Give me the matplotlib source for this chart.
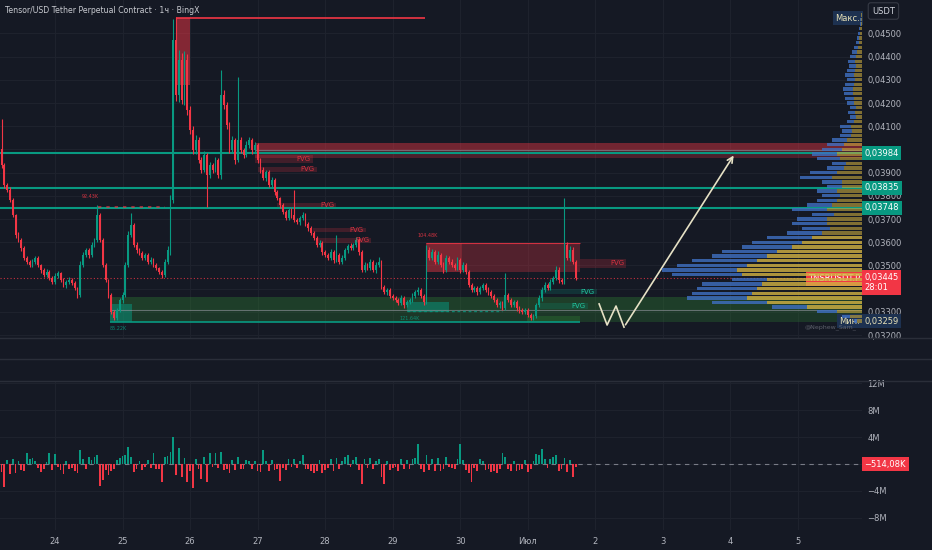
import matplotlib
matplotlib.use("Agg")
import matplotlib.pyplot as plt
import matplotlib.dates as mdates
import matplotlib.transforms as mtransforms
from matplotlib.lines import Line2D
from matplotlib.patches import Rectangle
import numpy as np
import pandas as pd

# ----- Candles: TNSRUSDT.P, 1h, prices in 1e-5 USDT -----
first_open = 4000
first_time = '2025-06-23 05:00'
closes = [
    3933, 3847, 3825, 3782, 3717, 3631, 3609, 3575, 3532, 3515,
    3502, 3515, 3532, 3502, 3480, 3459, 3472, 3446, 3428, 3454,
    3467, 3437, 3416, 3428, 3437, 3424, 3403, 3372, 3502, 3545,
    3566, 3545, 3588, 3609, 3717, 3609, 3502, 3437, 3372, 3299,
    3273, 3308, 3351, 3372, 3502, 3631, 3674, 3588, 3566, 3553,
    3532, 3545, 3515, 3523, 3502, 3489, 3472, 3459, 3515, 3566,
    3782, 4471, 4234, 4385, 4213, 4385, 4170, 4084, 3997, 4040,
    3954, 3911, 3976, 3890, 3933, 3911, 3954, 3890, 4234, 4191,
    4105, 3997, 4040, 3954, 4040, 3997, 3976, 4019, 4040, 3997,
    4019, 3954, 3911, 3877, 3903, 3847, 3868, 3816, 3790, 3760,
    3730, 3704, 3739, 3717, 3696, 3687, 3704, 3717, 3678, 3661,
    3640, 3618, 3588, 3597, 3558, 3545, 3532, 3558, 3523, 3545,
    3515, 3532, 3566, 3584, 3575, 3588, 3609, 3558, 3480, 3502,
    3489, 3515, 3480, 3502, 3515, 3407, 3385, 3394, 3368, 3359,
    3351, 3338, 3359, 3329, 3342, 3351, 3368, 3385, 3394, 3368,
    3342, 3566, 3532, 3558, 3515, 3545, 3502, 3480, 3532, 3515,
    3502, 3489, 3523, 3480, 3502, 3472, 3416, 3394, 3403, 3385,
    3403, 3416, 3394, 3385, 3368, 3351, 3329, 3338, 3316, 3372,
    3351, 3329, 3342, 3316, 3308, 3299, 3308, 3286, 3273, 3282,
    3329, 3359, 3394, 3416, 3403, 3428, 3446, 3480, 3437, 3428,
    3588, 3532, 3566, 3515, 3445,
]
upper_wick = [
    130, 10, 8, 12, 9, 6, 14, 8, 10, 7,
    9, 12, 8, 10, 6, 9, 11, 7, 8, 12,
    10, 6, 9, 8, 11, 7, 9, 6, 15, 12,
    10, 8, 12, 9, 43, 8, 7, 10, 6, 9,
    8, 10, 7, 12, 14, 16, 52, 9, 11, 8,
    10, 7, 9, 12, 8, 10, 6, 9, 14, 18,
    20, 90, 100, 43, 30, 40, 25, 18, 15, 20,
    12, 14, 16, 10, 12, 9, 15, 10, 108, 20,
    15, 12, 18, 10, 272, 14, 10, 16, 12, 10,
    15, 10, 8, 12, 9, 10, 14, 8, 9, 7,
    10, 8, 12, 9, 108, 10, 8, 12, 9, 7,
    9, 8, 10, 12, 8, 9, 10, 12, 8, 86,
    9, 12, 10, 8, 11, 9, 14, 10, 8, 12,
    10, 12, 8, 11, 21, 9, 7, 10, 8, 9,
    7, 9, 12, 8, 10, 9, 11, 10, 12, 8,
    9, 22, 14, 12, 10, 16, 9, 11, 14, 10,
    12, 9, 13, 10, 11, 8, 9, 7, 10, 8,
    10, 9, 8, 11, 7, 9, 8, 10, 9, 95,
    8, 10, 9, 7, 9, 8, 10, 7, 9, 8,
    10, 12, 11, 14, 9, 12, 10, 16, 11, 9,
    202, 15, 18, 12, 10,
]
lower_wick = [
    12, 15, 9, 10, 8, 12, 9, 11, 8, 10,
    7, 9, 10, 8, 12, 9, 8, 11, 10, 7,
    9, 10, 8, 12, 9, 10, 8, 14, 9, 8,
    10, 12, 8, 9, 7, 8, 10, 9, 11, 8,
    8, 10, 9, 12, 8, 9, 10, 8, 12, 9,
    10, 8, 9, 11, 10, 8, 9, 12, 8, 10,
    20, 15, 25, 30, 18, 22, 20, 16, 18, 15,
    14, 12, 10, 138, 12, 14, 10, 12, 18, 15,
    16, 12, 14, 18, 10, 12, 14, 10, 12, 15,
    10, 12, 14, 9, 12, 10, 8, 12, 9, 11,
    9, 10, 8, 12, 10, 9, 11, 8, 10, 12,
    8, 10, 9, 8, 12, 9, 10, 8, 11, 9,
    10, 8, 9, 12, 10, 8, 9, 11, 10, 8,
    9, 10, 8, 12, 9, 10, 8, 11, 9, 10,
    8, 10, 9, 11, 8, 10, 9, 8, 12, 10,
    12, 10, 9, 8, 11, 10, 9, 12, 8, 10,
    9, 8, 10, 12, 9, 11, 10, 8, 9, 12,
    10, 8, 9, 11, 10, 9, 8, 12, 9, 10,
    9, 10, 8, 12, 11, 9, 10, 9, 8, 10,
    10, 8, 12, 9, 10, 11, 8, 9, 12, 10,
    10, 9, 12, 8, 9,
]
# volume delta per candle, millions
delta_m = [
    -1.2, -3.4, 0.6, -1.5, 0.8, -1.4, 0.5, -0.9, -1.1, 1.6,
    0.7, 0.9, 0.4, -0.6, -1.2, -0.8, 0.3, 1.6, -0.9, 1.5,
    -0.4, -0.9, -1.5, 0.5, -0.7, -0.6, -1.0, -1.3, 2.1, 0.7,
    -0.8, 1.0, 0.6, 1.0, 1.3, -3.2, -2.4, -0.9, -1.6, -1.0,
    -0.8, 0.6, 0.9, 1.2, 1.4, 2.5, 1.0, -1.2, -0.7, 0.4,
    -0.9, -0.5, 0.6, -0.6, 1.6, -0.8, -0.7, -2.6, 1.0, 1.2,
    1.8, 3.95, -1.7, 2.3, -1.9, 0.9, -2.6, -1.0, -3.6, 0.8,
    -0.7, -2.2, 1.1, -2.6, 1.6, -0.5, 1.6, -0.6, 1.8, -0.9,
    -0.8, -1.4, 0.6, -0.9, 1.0, -0.7, -0.8, 0.6, 0.5, -0.8,
    0.4, -1.0, -1.2, 2.1, 0.5, -1.1, 0.6, -0.9, -0.7, -2.5,
    -0.6, -0.9, 0.7, -0.5, 0.8, -0.6, 0.5, 1.3, -0.8, -0.7,
    -1.0, -1.4, -1.1, 0.6, -1.3, -0.9, -0.6, 0.7, -1.0, 0.9,
    -0.7, 0.5, 1.1, 1.3, -0.4, 0.6, 1.0, -0.9, -3.0, 0.8,
    -0.6, 0.9, -0.8, 0.5, 0.7, -2.0, -2.9, 0.4, -0.9, -0.6,
    -0.5, -1.0, 0.7, -0.8, 0.6, -0.7, 0.7, 0.9, 3.0, -0.8,
    -1.2, 1.4, -0.9, 0.8, -1.1, 0.9, -1.0, -0.8, 1.0, -0.5,
    -0.6, -0.7, 0.8, 2.9, 0.6, -0.9, -1.4, -2.7, -0.6, -1.1,
    0.7, 0.5, -0.9, -0.8, -1.2, -1.0, -1.3, -0.7, 1.7, 1.0,
    -0.8, -1.0, 0.5, -1.1, -0.9, -0.7, 0.6, -1.2, -0.8, 0.5,
    1.5, 1.3, 2.2, 0.7, -0.6, 0.8, 1.0, 1.4, -1.0, -0.7,
    0.9, -1.2, 0.6, -1.9, -0.5,
]

# ----- Visible range volume profile (bottom row 0.0326, step 0.0002) -----
prof_bottom, prof_step = 0.0326, 0.0002
prof_up = [
    5, 12, 25, 55, 95, 115, 110, 105, 100, 95,
    120, 125, 115, 105, 95, 85, 70, 60, 50, 40,
    32, 35, 35, 28, 35, 30, 25, 22, 25, 20,
    20, 30, 25, 18, 16, 22, 25, 20, 18, 15,
    11, 10, 11, 8, 6, 7, 6, 8, 8, 9,
    9, 8, 7, 8, 7, 6, 7, 6, 5, 4,
    3, 3, 2, 2, 1, 1, 1,
]
prof_down = [
    3, 8, 20, 35, 55, 60, 60, 60, 60, 35,
    70, 75, 70, 65, 55, 55, 50, 50, 45, 35,
    28, 35, 30, 22, 35, 25, 20, 18, 20, 15,
    20, 32, 27, 17, 14, 23, 25, 20, 17, 15,
    11, 10, 11, 7, 6, 7, 6, 7, 9, 9,
    10, 9, 8, 9, 8, 7, 7, 6, 5, 4,
    3, 2, 2, 1, 1, 1, 0,
]
value_area = (0.0331, 0.0363)

# ----- Levels and drawings -----
levels = [0.03984, 0.03835, 0.03748]
last_price = 0.03445
low_price = 0.03259
high_price = 0.04566
supply_zone = ('2025-06-26 23:00', '2025-07-05 23:00', 0.03963, 0.03997, 0.04027)
demand_zone = ('2025-06-24 19:30', '2025-07-05 23:00', 0.03256, 0.03308, 0.03364)
top_block = ('2025-06-25 19:00', '2025-06-26 00:00', 0.04277, 0.04566, '2025-06-29 11:30')
range_block = ('2025-06-29 11:45', '2025-06-30 00:30', '2025-07-01 18:30', 0.03472, 0.03597)
teal_blocks = [
    ('2025-06-24 19:30', '2025-06-25 03:20', 0.03256, 0.03334),
    ('2025-06-29 05:00', '2025-06-29 20:00', 0.03299, 0.03342),
]
green_box = ('2025-06-30 23:45', '2025-07-01 18:30', 0.03256, 0.03282)
fvg_bear = [
    ('2025-06-26 23:00', '2025-06-27 19:40', 0.03941, 0.03976),
    ('2025-06-27 00:00', '2025-06-27 21:00', 0.03903, 0.03924),
    ('2025-06-27 07:00', '2025-06-28 04:00', 0.03752, 0.03769),
    ('2025-06-27 19:30', '2025-06-28 14:20', 0.03644, 0.03661),
    ('2025-06-27 21:10', '2025-06-28 16:20', 0.03597, 0.03618),
    ('2025-07-01 18:30', '2025-07-02 11:00', 0.03489, 0.03528),
]
fvg_bull = [
    ('2025-07-01 04:20', '2025-07-02 00:30', 0.03377, 0.03398),
    ('2025-07-01 04:20', '2025-07-01 21:20', 0.03312, 0.03338),
]
swing_labels = [
    ('2025-06-24 12:30', 0.03795, '92.43K', 'red'),
    ('2025-06-24 22:30', 0.03226, '85.22K', 'green'),
    ('2025-06-29 12:30', 0.03630, '104.48K', 'red'),
    ('2025-06-29 06:00', 0.03269, '121.64K', 'green'),
]
swing_high_line = ('2025-06-24 15:20', '2025-06-25 15:00', 0.03752)
eq_low_line = ('2025-06-29 05:00', '2025-06-30 15:00', 0.03304)
path_times = ['2025-07-02 01:20', '2025-07-02 04:10', '2025-07-02 07:20',
              '2025-07-02 10:10', '2025-07-04 01:40']
path_prices = [0.03334, 0.03243, 0.03325, 0.03234, 0.03984]

day_ticks = pd.date_range('2025-06-24', '2025-07-05', freq='D')
day_labels = ['24', '25', '26', '27', '28', '29', '30', 'Июл', '2', '3', '4', '5']

# ----- Style -----
BG = '#151924'
GRID = '#1e222d'
TXT = '#b2b5be'
GREEN = '#089981'
RED = '#f23645'
plt.rcParams['font.family'] = ['DejaVu Sans']


def t(s):
    return mdates.date2num(pd.Timestamp(s))


def fmt_price(v):
    return f'{v:.5f}'.replace('.', ',')


fig = plt.figure(figsize=(9.32, 5.5), dpi=100, facecolor=BG)
W, H = 932, 550
ax = fig.add_axes([0, (H - 338) / H, 862 / W, 338 / H], facecolor=BG)
axv = fig.add_axes([0, 20 / H, 862 / W, 149 / H], facecolor=BG, sharex=ax)

times = pd.date_range(first_time, periods=len(closes), freq='h')
tn = mdates.date2num(times.values)
c = np.array(closes) / 1e5
o = np.r_[first_open, closes[:-1]] / 1e5
hi = np.maximum(o, c) + np.array(upper_wick) / 1e5
lo = np.minimum(o, c) - np.array(lower_wick) / 1e5
up = c >= o
col = np.where(up, GREEN, RED)
bw = 0.62 / 24

# zones under candles
s, e, b, m, top = supply_zone
ax.add_patch(Rectangle((t(s), m), t(e) - t(s), top - m, fc=RED, alpha=0.42, lw=0, zorder=1))
ax.add_patch(Rectangle((t(s), b), t(e) - t(s), m - b, fc=RED, alpha=0.25, lw=0, zorder=1))
ax.hlines(m, t(s), t(e), color='#9598a1', lw=0.8, alpha=0.6, zorder=1.5)

s, e, b, m, top = demand_zone
ax.add_patch(Rectangle((t(s), m), t(e) - t(s), top - m, fc='#2e7d32', alpha=0.38, lw=0, zorder=1))
ax.add_patch(Rectangle((t(s), b), t(e) - t(s), m - b, fc='#2e7d32', alpha=0.30, lw=0, zorder=1))
ax.hlines(m, t(s), t(e), color='#9598a1', lw=0.8, alpha=0.6, zorder=1.5)
ax.hlines(b, t(s), t(green_box[1]), color=GREEN, lw=1.2, zorder=1.5)

s, e, b, top, line_end = top_block
ax.add_patch(Rectangle((t(s), b), t(e) - t(s), top - b, fc=RED, alpha=0.5, lw=0, zorder=1))
ax.hlines(top, t(s), t(line_end), color=RED, lw=1.2, zorder=1.5)

s, mid, e, b, top = range_block
ax.add_patch(Rectangle((t(s), b), t(mid) - t(s), top - b, fc=RED, alpha=0.45, lw=0, zorder=1))
ax.add_patch(Rectangle((t(mid), b), t(e) - t(mid), top - b, fc=RED, alpha=0.28, lw=0, zorder=1))
ax.hlines(top, t(s), t(e), color=RED, lw=0.8, alpha=0.8, zorder=1.5)

for s, e, b, top in teal_blocks:
    ax.add_patch(Rectangle((t(s), b), t(e) - t(s), top - b, fc=GREEN, alpha=0.5, lw=0, zorder=1.2))
s, e, b, top = green_box
ax.add_patch(Rectangle((t(s), b), t(e) - t(s), top - b, fc='#2e7d32', alpha=0.35, lw=0, zorder=1.2))

for s, e, b, top in fvg_bear:
    ax.add_patch(Rectangle((t(s), b), t(e) - t(s), top - b, fc=RED, alpha=0.2, lw=0, zorder=1.1))
    ax.text(t(e) - 0.03, (b + top) / 2, 'FVG', color=RED, alpha=0.85, fontsize=5,
            ha='right', va='center', zorder=4)
for s, e, b, top in fvg_bull:
    ax.add_patch(Rectangle((t(s), b), t(e) - t(s), top - b, fc=GREEN, alpha=0.2, lw=0, zorder=1.1))
    ax.text(t(e) - 0.03, (b + top) / 2, 'FVG', color='#22c59f', fontsize=5,
            ha='right', va='center', zorder=4)

for lv in levels:
    ax.axhline(lv, color=GREEN, lw=1.5, zorder=2)
ax.axhline(last_price, color=RED, lw=0.8, ls=(0, (1, 2)), alpha=0.8, zorder=2)

s, e, lv = swing_high_line
ax.hlines(lv, t(s), t(e), color=RED, lw=1.2, ls=(0, (2, 3)), alpha=0.7, zorder=2)
s, e, lv = eq_low_line
ax.hlines(lv, t(s), t(e), color=GREEN, lw=1.0, ls=(0, (2, 2)), alpha=0.8, zorder=2)
for ts, p, txt, kind in swing_labels:
    ax.text(t(ts), p, txt, color=RED if kind == 'red' else GREEN, fontsize=3.5,
            ha='center', va='center', alpha=0.85, zorder=4)

# candles
ax.vlines(tn, lo, hi, colors=col, lw=0.8, zorder=3)
ax.bar(tn, np.maximum(np.abs(c - o), 0.00002), bottom=np.minimum(o, c), width=bw,
       color=col, lw=0, zorder=3)

# projected path
pt = [t(x) for x in path_times]
ax.plot(pt[:-1], path_prices[:-1], color='#e6e1c5', lw=1.2, zorder=5)
ax.annotate('', xy=(pt[-1], path_prices[-1]), xytext=(pt[-2], path_prices[-2]),
            arrowprops=dict(arrowstyle='->', color='#e6e1c5', lw=1.2), zorder=5)

# volume profile on a twin axis anchored at the right edge
axp = ax.twiny()
prof_y = prof_bottom + prof_step * np.arange(len(prof_up))
in_va = (prof_y >= value_area[0]) & (prof_y <= value_area[1])
bar_h = prof_step * 0.72
axp.barh(prof_y, prof_up, height=bar_h, color='#c9a93e', alpha=0.6, lw=0)
axp.barh(prof_y[in_va], np.array(prof_up)[in_va], height=bar_h,
         color='#d8b845', alpha=0.5, lw=0)
axp.barh(prof_y, prof_down, left=prof_up, height=bar_h, color='#3f70c2', alpha=0.8, lw=0)
axp.set_xlim(862, 0)
axp.set_xticks([])
for sp in axp.spines.values():
    sp.set_visible(False)

# axes styling
ax.set_ylim(0.031871, 0.046440)
ax.set_xlim(t('2025-06-23 04:28'), t('2025-07-05 22:44'))
yt = np.round(np.arange(0.032, 0.0455, 0.001), 3)
ax.set_yticks(yt)
# the 0.034 tick sits under the live-price tag
ax.set_yticklabels(['' if abs(v - 0.034) < 1e-9 else fmt_price(v) for v in yt])
ax.yaxis.tick_right()
ax.tick_params(axis='y', length=0, pad=4, labelsize=6, labelcolor=TXT)
ax.tick_params(axis='x', length=0, labelbottom=False)
ax.set_xticks(mdates.date2num(day_ticks.values))
ax.grid(True, color=GRID, lw=0.8, zorder=0)
ax.set_axisbelow(True)
for sp in ax.spines.values():
    sp.set_visible(False)

# volume pane
vcol = np.where(np.array(delta_m) >= 0, GREEN, RED)
axv.bar(tn, delta_m, width=bw, color=vcol, lw=0, zorder=3)
axv.axhline(0, color='#787b86', lw=0.8, ls=(0, (4, 4)), zorder=2)
axv.set_ylim(-9.78, 12.3)
axv.set_yticks([-8, -4, 0, 4, 8, 12])
axv.set_yticklabels(['−8M', '−4M', '', '4M', '8M', '12M'])
axv.yaxis.tick_right()
axv.tick_params(axis='y', length=0, pad=4, labelsize=6, labelcolor=TXT)
axv.set_xticks(mdates.date2num(day_ticks.values))
axv.set_xticklabels(day_labels)
axv.tick_params(axis='x', length=0, pad=5, labelsize=6, labelcolor=TXT)
axv.grid(True, color=GRID, lw=0.8, zorder=0)
axv.set_axisbelow(True)
for sp in axv.spines.values():
    sp.set_visible(False)


def tag(axis, y, text, fc, tc='white', inside=False):
    tr = mtransforms.blended_transform_factory(axis.transAxes, axis.transData)
    x, ha = (0.998, 'right') if inside else (1.003, 'left')
    axis.text(x, y, text, transform=tr, ha=ha, va='center', fontsize=6, color=tc,
              bbox=dict(boxstyle='square,pad=0.3', fc=fc, ec='none'),
              clip_on=False, zorder=20)


for lv in levels:
    tag(ax, lv, fmt_price(lv), GREEN)
tag(ax, last_price - 0.00018, fmt_price(last_price) + '\n28:01', RED)
tag(ax, last_price - 0.00002, 'TNSRUSDT.P', RED, inside=True)
tag(ax, low_price, fmt_price(low_price), '#1d3150', '#e8e2b8')
tag(ax, low_price, 'Мин.', '#1d3150', '#e8e2b8', inside=True)
tag(ax, high_price, 'Макс.', '#1d3150', '#e8e2b8', inside=True)
tag(axv, 0, '−514,08K', RED)

ax.text(0.006, 0.970, 'Tensor/USD Tether Perpetual Contract · 1ч · BingX',
        transform=ax.transAxes, fontsize=5.6, color='#c8cad0', va='center', zorder=20)
ax.text(0.994, 0.032, '@Nephew_Sam_', transform=ax.transAxes, fontsize=4.5,
        color='#5d606b', ha='right', va='center', zorder=20)
fig.text(872 / W, 1 - 11 / H, 'USDT', fontsize=6, color='#d1d4dc', va='center',
         bbox=dict(boxstyle='round,pad=0.45,rounding_size=0.3', fc=BG, ec='#363a45', lw=0.8))

# pane separators
for yp in (338, 359, 381):
    fig.add_artist(Line2D([0, 1], [1 - yp / H] * 2, color='#2a2e39', lw=1))

fig.savefig('out.png', dpi=100, facecolor=BG)
